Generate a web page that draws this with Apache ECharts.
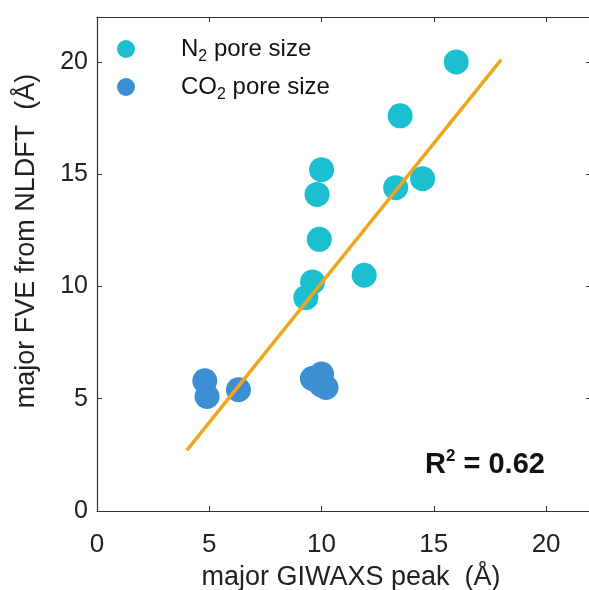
<!DOCTYPE html>
<html>
<head>
<meta charset="utf-8">
<script src="https://cdn.jsdelivr.net/npm/echarts@6/dist/echarts.min.js"></script>
<style>
  html, body { margin: 0; padding: 0; background: #fff; }
  #chart { width: 589px; height: 590px; }
</style>
</head>
<body>
<div id="chart"></div>
<script>
// N2 pore size points (GIWAXS peak, FVE)
var n2X = [16.0, 13.5, 10.0, 9.8, 13.3, 14.5, 9.9, 11.9, 9.6, 9.3, 9.6];
var n2Y = [20.0, 17.6, 15.2, 14.1, 14.4, 14.8, 12.1, 10.5, 10.2, 9.5, 5.9];

// CO2 pore size points
var co2X = [4.8, 4.9, 6.3, 9.6, 10.0, 10.0, 9.8, 10.2];
var co2Y = [5.8, 5.1, 5.4, 5.9, 6.1, 5.6, 5.8, 5.5];

// linear fit line end points
var fitX = [4.0, 18.0];
var fitY = [2.7, 20.1];

var ticks = [0, 5, 10, 15, 20];
var font = "'Liberation Sans', Arial, Helvetica, sans-serif";

function pairs(xs, ys) {
    var out = [];
    for (var i = 0; i < xs.length; i++) {
        out.push([xs[i], ys[i]]);
    }
    return out;
}

function tickText(v) {
    return ticks.indexOf(v) >= 0 ? String(v) : '';
}

var chart = echarts.init(document.getElementById('chart'));

var axisCommon = {
    min: 0,
    max: 22,
    interval: 5,
    axisLine: { show: true, onZero: false, lineStyle: { color: '#333', width: 1.2 } },
    axisTick: { show: true, inside: true, length: 5, lineStyle: { color: '#333' } },
    splitLine: { show: false }
};

chart.setOption({
    animation: false,
    backgroundColor: '#fff',
    textStyle: { fontFamily: font },
    grid: { left: 97, top: 17, right: -2, bottom: 79, containLabel: false, outerBoundsMode: 'none' },
    legend: {
        left: 112,
        top: 32,
        orient: 'vertical',
        itemWidth: 18,
        itemHeight: 18,
        itemGap: 10,
        icon: 'circle',
        data: ['N2', 'CO2'],
        formatter: function (name) {
            var base = name === 'N2' ? 'N' : 'CO';
            return '{g| }{t|' + base + '}{s|2}{t| pore size}';
        },
        textStyle: {
            color: '#111',
            rich: {
                g: { width: 41 },
                t: { fontSize: 24, fontFamily: font, color: '#111' },
                s: { fontSize: 16, fontFamily: font, color: '#111', padding: [16, 0, 0, 0] }
            }
        }
    },
    title: {
        text: '{b|R}{p|2}{b| = 0.62}',
        left: 420,
        top: 443,
        textStyle: {
            rich: {
                b: { fontSize: 29, fontWeight: 'bold', fontFamily: font, color: '#111' },
                p: { fontSize: 17, fontWeight: 'bold', fontFamily: font, color: '#111', padding: [0, 0, 16, 0] }
            }
        }
    },
    xAxis: [
        Object.assign({}, axisCommon, {
            type: 'value',
            position: 'bottom',
            name: 'major GIWAXS peak  (\u00c5)',
            nameLocation: 'middle',
            nameGap: 53,
            nameTextStyle: { fontSize: 27, color: '#222', fontFamily: font, padding: [0, 0, 0, 14] },
            axisLabel: { fontSize: 26, color: '#222', margin: 21, formatter: tickText }
        }),
        Object.assign({}, axisCommon, {
            type: 'value',
            position: 'top',
            axisLabel: { show: false }
        })
    ],
    yAxis: [
        Object.assign({}, axisCommon, {
            type: 'value',
            position: 'left',
            name: 'major FVE from NLDFT  (\u00c5)',
            nameLocation: 'middle',
            nameGap: 57,
            nameTextStyle: { fontSize: 27, color: '#222', fontFamily: font, padding: [0, 0, 0, 46] },
            axisLabel: { fontSize: 25, color: '#222', margin: 9, formatter: tickText }
        }),
        Object.assign({}, axisCommon, {
            type: 'value',
            position: 'right',
            axisLabel: { show: false }
        })
    ],
    series: [
        {
            name: 'N2',
            type: 'scatter',
            symbolSize: 25,
            itemStyle: { color: '#1bbfcf', opacity: 1 },
            data: pairs(n2X, n2Y),
            z: 2
        },
        {
            name: 'CO2',
            type: 'scatter',
            symbolSize: 25,
            itemStyle: { color: '#3d8fd3', opacity: 1 },
            data: pairs(co2X, co2Y),
            z: 3
        },
        {
            name: 'fit',
            type: 'line',
            symbol: 'none',
            lineStyle: { color: '#f0a61c', width: 3.5 },
            data: pairs(fitX, fitY),
            z: 4
        }
    ]
});
</script>
</body>
</html>
